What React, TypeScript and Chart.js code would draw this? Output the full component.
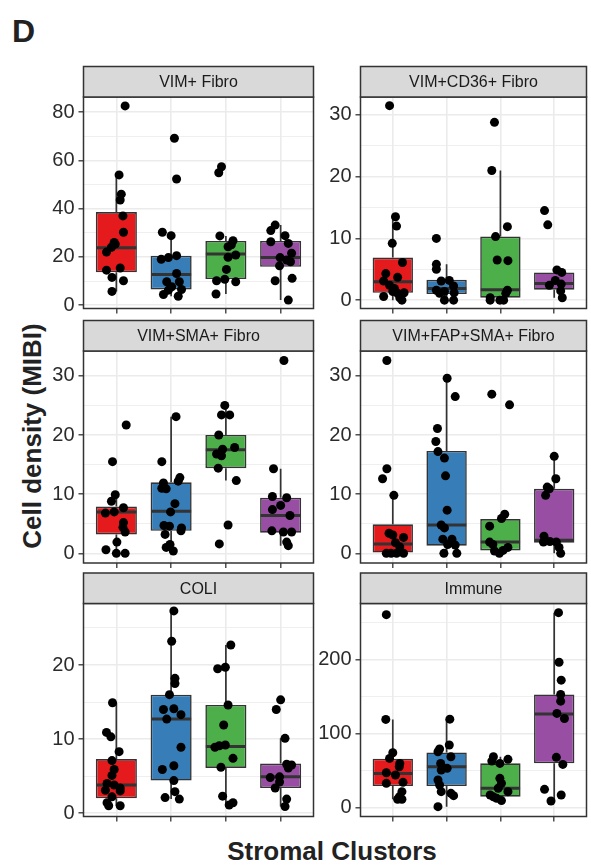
import React, { useEffect, useRef } from 'react';
import { Chart, registerables } from 'chart.js';

Chart.register(...registerables);

const FONT = "'Liberation Sans', Arial, Helvetica, sans-serif";
Chart.defaults.font.family = FONT;

// ---------- categories / colours ----------
const clusters = [1, 2, 3, 4];
const clusterColors = ['#E41A1C', '#377EB8', '#4DAF4A', '#984EA3'];

// ---------- Panel: VIM+ Fibro ----------
const vimFibroValues = [
  [82.6, 54.0, 46.0, 43.6, 37.0, 30.2, 26.0, 25.3, 24.0, 22.0, 15.4, 14.5, 11.5, 10.1, 5.7],
  [69.2, 52.3, 30.2, 28.8, 20.5, 19.7, 19.0, 13.1, 9.7, 9.7, 7.6, 6.5, 6.2, 4.4, 3.7],
  [57.4, 54.9, 28.7, 26.7, 25.0, 24.2, 20.8, 19.8, 14.8, 10.7, 10.1, 9.7, 4.6],
  [33.2, 30.9, 28.8, 26.3, 25.6, 21.5, 19.7, 18.7, 18.0, 16.3, 11.1, 10.1, 2.1],
];
const vimFibroJitter = [
  [0.16, 0.05, 0.09, 0.07, 0.12, 0.13, -0.04, -0.02, -0.09, -0.18, 0.07, -0.18, -0.08, 0.13, -0.08],
  [0.06, 0.10, -0.16, 0.0, 0.10, -0.05, -0.18, 0.10, -0.08, 0.15, 0.01, 0.19, -0.05, -0.14, 0.13],
  [-0.08, -0.13, -0.11, 0.13, 0.10, 0.04, 0.18, 0.04, 0.01, -0.02, -0.17, 0.18, -0.18],
  [-0.10, -0.18, 0.08, -0.18, 0.14, 0.20, -0.01, 0.11, 0.18, -0.02, 0.21, -0.10, 0.14],
];
// [lower whisker, q1, median, q3, upper whisker]
const vimFibroBox = [
  [5.7, 13.6, 23.8, 38.6, 54.0],
  [3.7, 6.5, 12.7, 20.5, 30.2],
  [4.6, 10.8, 21.2, 26.6, 28.7],
  [2.1, 15.9, 19.7, 26.6, 33.2],
];
const vimFibroRange = [-1.4, 86.3];
const vimFibroMajor = [0, 20, 40, 60, 80];
const vimFibroMinor = [10, 30, 50, 70];

// ---------- Panel: VIM+CD36+ Fibro ----------
const cd36Values = [
  [31.5, 13.5, 12.0, 9.2, 6.1, 4.3, 3.7, 3.1, 2.4, 1.9, 1.4, 1.2, 1.1, 0.6, 0.4, 0.0],
  [10.0, 5.8, 5.0, 3.2, 3.1, 2.3, 1.6, 1.4, 1.2, 1.1, 0.0, 0.0],
  [28.8, 21.0, 11.9, 10.3, 6.5, 6.4, 1.6, 1.1, 0.4, 0.0, 0.0, 0.0],
  [14.5, 12.2, 4.9, 4.5, 3.2, 2.6, 2.4, 1.5, 0.4],
];
const cd36Jitter = [
  [-0.06, 0.05, 0.07, -0.01, 0.18, -0.13, 0.09, -0.17, -0.06, 0.03, 0.0, 0.21, 0.09, -0.17, 0.13, 0.17],
  [-0.19, -0.19, -0.19, 0.05, -0.10, 0.13, -0.19, -0.04, 0.14, -0.13, -0.04, 0.13],
  [-0.11, -0.16, 0.13, -0.09, -0.06, 0.14, 0.13, 0.10, -0.19, -0.19, -0.01, 0.06],
  [-0.18, -0.12, 0.05, 0.14, 0.02, 0.13, -0.09, 0.12, 0.15],
];
const cd36Box = [
  [0, 1.2, 3.0, 6.9, 13.5],
  [0, 1.0, 1.9, 3.3, 5.8],
  [0, 0.4, 1.7, 10.3, 21.0],
  [0.4, 1.7, 2.7, 4.5, 4.9],
];
const cd36Range = [-1.35, 32.9];
const cd36Major = [0, 10, 20, 30];
const cd36Minor = [5, 15, 25];

// ---------- Panel: VIM+SMA+ Fibro ----------
const smaValues = [
  [21.7, 15.5, 9.9, 8.8, 7.7, 7.0, 6.8, 5.2, 4.4, 3.6, 1.9, 0.6, 0.0, 0.0],
  [23.1, 15.5, 12.8, 12.2, 11.9, 11.0, 10.9, 8.4, 7.0, 4.7, 4.6, 4.3, 3.8, 3.2, 1.5, 1.0, 0.4],
  [25.0, 23.4, 23.4, 20.0, 17.9, 17.6, 16.8, 16.5, 14.4, 12.3, 4.8, 1.6],
  [32.6, 14.3, 9.6, 9.4, 8.1, 7.4, 6.4, 3.8, 3.6, 3.6, 1.9, 1.3],
];
const smaJitter = [
  [0.18, -0.07, -0.02, -0.09, 0.13, -0.04, -0.20, 0.13, 0.12, 0.16, 0.01, -0.19, 0.0, 0.16],
  [0.09, -0.17, 0.16, 0.13, -0.14, -0.17, -0.09, 0.07, -0.01, -0.13, -0.03, 0.19, 0.18, -0.11, -0.02, -0.09, 0.04],
  [-0.02, -0.08, 0.07, -0.13, 0.16, -0.06, -0.17, -0.08, -0.14, 0.19, 0.04, -0.12],
  [0.06, -0.13, -0.15, 0.11, 0.0, -0.15, 0.17, -0.16, 0.05, 0.20, 0.11, 0.14],
];
const smaBox = [
  [0, 3.2, 7.0, 7.9, 9.9],
  [0.4, 3.8, 7.1, 12.0, 23.1],
  [12.3, 14.4, 17.5, 20.0, 25.0],
  [1.3, 3.5, 6.4, 9.4, 14.3],
];
const smaRange = [-1.63, 34.2];
const smaMajor = [0, 10, 20, 30];
const smaMinor = [5, 15, 25];

// ---------- Panel: VIM+FAP+SMA+ Fibro ----------
const fapValues = [
  [32.6, 14.3, 12.6, 9.8, 3.4, 3.1, 2.7, 1.8, 1.1, 0, 0, 0, 0],
  [29.6, 26.5, 21.1, 18.9, 17.2, 16.1, 13.1, 7.3, 4.8, 4.3, 2.4, 2.4, 1.5, 1.4, 0, 0],
  [26.9, 25.1, 6.6, 5.9, 4.6, 1.9, 1.5, 1.0, 0.5, 0.4, 0],
  [16.4, 12.6, 11.2, 10.9, 9.8, 2.9, 2.0, 1.9, 1.9, 1.0, 0],
];
const fapJitter = [
  [-0.11, -0.11, -0.19, 0.02, -0.07, 0.0, 0.20, 0.05, 0.13, -0.12, -0.03, 0.07, 0.20],
  [0.01, 0.16, -0.17, -0.20, -0.16, -0.04, -0.02, 0.01, -0.10, -0.04, -0.07, 0.10, 0.02, 0.16, -0.05, 0.19],
  [-0.16, 0.17, 0.08, 0.02, -0.20, -0.20, -0.14, 0.14, 0.05, -0.11, -0.02],
  [0.0, 0.03, -0.13, -0.09, -0.16, -0.19, -0.08, -0.20, 0.04, 0.09, 0.12],
];
const fapBox = [
  [0, 0, 1.6, 4.9, 9.8],
  [0, 1.3, 4.8, 17.3, 29.6],
  [0, 0.5, 1.9, 5.8, 6.6],
  [0, 1.8, 2.2, 10.9, 16.4],
];
const fapRange = [-1.63, 34.2];
const fapMajor = [0, 10, 20, 30];
const fapMinor = [5, 15, 25];

// ---------- Panel: COLI ----------
const coliValues = [
  [14.9, 10.9, 10.3, 8.3, 7.1, 5.9, 5.1, 4.0, 3.8, 3.4, 3.1, 3.0, 2.2, 1.4, 1.0, 1.0],
  [27.3, 23.2, 18.2, 17.5, 16.0, 14.1, 14.0, 13.3, 12.7, 8.9, 6.4, 5.9, 4.4, 2.9, 2.1, 1.9],
  [22.7, 19.7, 19.5, 14.6, 11.9, 9.2, 9.1, 8.9, 7.4, 6.2, 2.3, 1.4, 1.1],
  [15.3, 14.0, 10.1, 6.6, 6.5, 6.1, 4.9, 4.8, 4.2, 3.4, 1.9, 0.9],
];
const coliJitter = [
  [-0.07, -0.18, -0.10, 0.05, -0.08, -0.04, -0.08, -0.17, -0.04, 0.07, -0.20, 0.07, -0.08, -0.17, -0.14, 0.07],
  [0.05, 0.01, 0.07, 0.07, -0.03, 0.05, -0.14, 0.18, -0.08, 0.18, 0.05, -0.16, 0.05, 0.07, -0.11, 0.15],
  [0.09, -0.01, -0.15, 0.04, -0.04, -0.01, -0.12, -0.20, 0.13, -0.09, -0.06, 0.13, 0.06],
  [0.0, -0.08, 0.08, 0.11, 0.20, 0.14, -0.02, -0.19, -0.02, -0.10, 0.11, 0.08],
];
const coliBox = [
  [1.0, 2.0, 3.8, 7.3, 14.9],
  [1.9, 4.4, 12.7, 16.0, 27.3],
  [1.1, 6.1, 9.0, 14.6, 22.7],
  [0.9, 3.4, 4.9, 6.7, 10.1],
];
const coliRange = [-0.45, 28.3];
const coliMajor = [0, 10, 20];
const coliMinor = [5, 15, 25];

// ---------- Panel: Immune ----------
const immuneValues = [
  [260.5, 119.3, 74.4, 66.8, 60, 55.6, 47.5, 44.4, 34.5, 33.2, 22, 15, 11.7, 11.7],
  [119.7, 84.8, 79.4, 75.8, 69, 60, 53.4, 51, 37.7, 31, 22, 19.7, 16.6, 1.8],
  [69, 65.5, 63.2, 60, 39.9, 33.2, 26.5, 22, 17.5, 15, 13, 9.9],
  [263.2, 196.4, 172.2, 152.9, 143.9, 127.4, 120.6, 68.2, 58.7, 25.1, 17.5, 9.4],
];
const immuneJitter = [
  [-0.12, -0.13, 0.0, -0.06, 0.13, 0.12, -0.12, 0.05, 0.19, -0.12, 0.17, 0.12, 0.09, 0.17],
  [0.06, 0.05, -0.13, -0.16, 0.08, -0.11, 0.01, -0.10, -0.16, -0.13, -0.10, 0.08, 0.13, -0.16],
  [-0.13, 0.14, -0.16, -0.01, -0.01, 0.02, -0.04, 0.14, -0.19, -0.13, -0.07, 0.02],
  [0.08, 0.09, 0.13, 0.12, 0.12, 0.05, 0.19, 0.04, 0.16, -0.18, 0.13, -0.06],
];
const immuneBox = [
  [11.7, 29.6, 46.6, 66.4, 119.3],
  [1.8, 29.6, 55.6, 74.9, 119.7],
  [9.9, 15.2, 26.5, 60.1, 69],
  [9.4, 60.1, 126.5, 152.9, 263.2],
];
const immuneRange = [-11.5, 275.5];
const immuneMajor = [0, 100, 200];
const immuneMinor = [50, 150, 250];

// ---------- texts ----------
const panelLetter = 'D';
const yAxisTitle = 'Cell density (MIBI)';
const xAxisTitle = 'Stromal Clustors';

const panels = [
  { title: 'VIM+ Fibro', values: vimFibroValues, jitter: vimFibroJitter, box: vimFibroBox, range: vimFibroRange, major: vimFibroMajor, minor: vimFibroMinor, col: 0, row: 0 },
  { title: 'VIM+CD36+ Fibro', values: cd36Values, jitter: cd36Jitter, box: cd36Box, range: cd36Range, major: cd36Major, minor: cd36Minor, col: 1, row: 0 },
  { title: 'VIM+SMA+ Fibro', values: smaValues, jitter: smaJitter, box: smaBox, range: smaRange, major: smaMajor, minor: smaMinor, col: 0, row: 1 },
  { title: 'VIM+FAP+SMA+ Fibro', values: fapValues, jitter: fapJitter, box: fapBox, range: fapRange, major: fapMajor, minor: fapMinor, col: 1, row: 1 },
  { title: 'COLI', values: coliValues, jitter: coliJitter, box: coliBox, range: coliRange, major: coliMajor, minor: coliMinor, col: 0, row: 2 },
  { title: 'Immune', values: immuneValues, jitter: immuneJitter, box: immuneBox, range: immuneRange, major: immuneMajor, minor: immuneMinor, col: 1, row: 2 },
];

// ---------- layout ----------
const COLS = [
  { left: 83.5, right: 313.5, cLeft: 36, cRight: 320 },
  { left: 360.5, right: 589.5, cLeft: 314, cRight: 591 },
];
const ROWS = [
  { strip: 66.5, top: 97, bottom: 308.5 },
  { strip: 320.5, top: 351, bottom: 563 },
  { strip: 573, top: 603.5, bottom: 816.5 },
];

const DARK = '#333333';
const GRID = '#ebebeb';

const facetPlugin = {
  id: 'facet',
  beforeDatasetsDraw(chart: any, _args: any, opts: any) {
    const meta = chart.getDatasetMeta(0);
    const ys = chart.scales.y;
    const ctx = chart.ctx;
    ctx.save();
    ctx.strokeStyle = DARK;
    ctx.lineWidth = 1.7;
    opts.box.forEach((b: number[], i: number) => {
      const el = meta.data[i];
      if (!el) return;
      const x = el.x;
      ctx.beginPath();
      ctx.moveTo(x, ys.getPixelForValue(b[4]));
      ctx.lineTo(x, ys.getPixelForValue(b[3]));
      ctx.moveTo(x, ys.getPixelForValue(b[1]));
      ctx.lineTo(x, ys.getPixelForValue(b[0]));
      ctx.stroke();
    });
    ctx.restore();
  },
  afterDatasetDraw(chart: any, args: any, opts: any) {
    if (args.index !== 0) return;
    const meta = chart.getDatasetMeta(0);
    const ys = chart.scales.y;
    const ctx = chart.ctx;
    ctx.save();
    ctx.strokeStyle = DARK;
    ctx.lineWidth = 3;
    opts.box.forEach((b: number[], i: number) => {
      const el = meta.data[i];
      if (!el) return;
      const y = ys.getPixelForValue(b[2]);
      ctx.beginPath();
      ctx.moveTo(el.x - el.width / 2 + 0.5, y);
      ctx.lineTo(el.x + el.width / 2 - 0.5, y);
      ctx.stroke();
    });
    ctx.restore();
  },
  afterDraw(chart: any, _args: any, opts: any) {
    const { left, top, right, bottom } = chart.chartArea;
    const ctx = chart.ctx;
    const sh = opts.stripHeight;
    ctx.save();
    ctx.lineWidth = 1.5;
    ctx.strokeStyle = DARK;
    ctx.strokeRect(left, top, right - left, bottom - top);
    ctx.fillStyle = '#d9d9d9';
    ctx.fillRect(left, top - sh, right - left, sh);
    ctx.strokeRect(left, top - sh, right - left, sh);
    ctx.fillStyle = '#1a1a1a';
    ctx.font = `16px ${FONT}`;
    ctx.textAlign = 'center';
    ctx.textBaseline = 'alphabetic';
    ctx.fillText(opts.title, (left + right) / 2, top - sh / 2 + 0.358 * 16);
    ctx.restore();
  },
};

function Panel({ p }: { p: any }) {
  const ref = useRef<HTMLCanvasElement | null>(null);
  const col = COLS[p.col];
  const row = ROWS[p.row];
  const cTop = Math.floor(row.strip - 3);
  const cBottom = Math.ceil(row.bottom + 16);
  const cw = col.cRight - col.cLeft;
  const ch = cBottom - cTop;

  useEffect(() => {
    const allTicks = [...p.major, ...p.minor].sort((a: number, b: number) => a - b);
    const isMajor = (v: number) => p.major.includes(v);
    const points: { x: number; y: number }[] = [];
    p.values.forEach((vals: number[], g: number) => {
      vals.forEach((v, k) => points.push({ x: clusters[g] + p.jitter[g][k], y: v }));
    });
    const chart = new Chart(ref.current as HTMLCanvasElement, {
      type: 'bar',
      data: {
        datasets: [
          {
            type: 'bar',
            data: p.box.map((b: number[], i: number) => ({ x: clusters[i], y: [b[1], b[3]] })) as any,
            backgroundColor: clusterColors,
            borderColor: DARK,
            borderWidth: 1.6,
            borderSkipped: false,
            barPercentage: 0.75,
            categoryPercentage: 1,
            order: 2,
          } as any,
          {
            type: 'scatter',
            data: points,
            backgroundColor: '#000000',
            borderWidth: 0,
            pointRadius: 4.5,
            pointHoverRadius: 4.5,
            clip: false,
            order: 1,
          } as any,
        ],
      },
      options: {
        animation: false,
        responsive: false,
        devicePixelRatio: 1,
        events: [],
        layout: {
          padding: { top: row.top - cTop, left: 0, right: col.cRight - col.right, bottom: 0 },
        },
        plugins: {
          legend: { display: false },
          tooltip: { enabled: false },
          facet: { title: p.title, box: p.box, stripHeight: row.top - row.strip },
        } as any,
        scales: {
          x: {
            type: 'linear',
            min: 0.4,
            max: 4.6,
            bounds: 'data',
            offset: false,
            afterBuildTicks: (s: any) => {
              s.ticks = clusters.map((v) => ({ value: v }));
            },
            afterFit: (s: any) => {
              s.height = cBottom - row.bottom;
            },
            ticks: { display: false, autoSkip: false },
            grid: {
              offset: false,
              color: GRID,
              lineWidth: 1.6,
              tickLength: 5,
              tickColor: DARK,
              tickWidth: 1.3,
            },
            border: { display: false },
          },
          y: {
            type: 'linear',
            min: p.range[0],
            max: p.range[1],
            bounds: 'data',
            beginAtZero: false,
            afterBuildTicks: (s: any) => {
              s.ticks = allTicks.map((v: number) => ({ value: v }));
            },
            afterFit: (s: any) => {
              s.width = col.left - col.cLeft;
            },
            ticks: {
              autoSkip: false,
              padding: 4,
              color: '#2b2b2b',
              font: { size: 20, family: FONT },
              callback: (v: any) => (isMajor(Number(v)) ? String(v) : ''),
            },
            grid: {
              color: GRID,
              lineWidth: (c: any) => (isMajor(c.tick?.value) ? 1.6 : 0.8),
              tickLength: 5,
              tickColor: (c: any) => (isMajor(c.tick?.value) ? DARK : 'rgba(0,0,0,0)'),
              tickWidth: 1.3,
            },
            border: { display: false },
          },
        },
      } as any,
      plugins: [facetPlugin as any],
    });
    return () => chart.destroy();
  }, []);

  return (
    <canvas
      ref={ref}
      width={cw}
      height={ch}
      style={{ position: 'absolute', left: col.cLeft, top: cTop, width: cw, height: ch }}
    />
  );
}

export default function App() {
  return (
    <div
      style={{
        position: 'absolute',
        left: 0,
        top: 0,
        width: 591,
        height: 866,
        background: '#ffffff',
        overflow: 'hidden',
        fontFamily: FONT,
      }}
    >
      <div
        style={{
          position: 'absolute',
          left: 12,
          top: 15,
          fontSize: 32,
          lineHeight: '32px',
          fontWeight: 'bold',
          color: '#222',
        }}
      >
        {panelLetter}
      </div>
      <div
        style={{
          position: 'absolute',
          left: 32.3 - 150,
          top: 436 - 13,
          width: 300,
          height: 26,
          lineHeight: '26px',
          fontSize: 26,
          fontWeight: 'bold',
          textAlign: 'center',
          color: '#222',
          transform: 'rotate(-90deg)',
          whiteSpace: 'nowrap',
        }}
      >
        {yAxisTitle}
      </div>
      <div
        style={{
          position: 'absolute',
          left: 332 - 150,
          top: 838,
          width: 300,
          lineHeight: '26px',
          fontSize: 26,
          fontWeight: 'bold',
          textAlign: 'center',
          color: '#222',
          whiteSpace: 'nowrap',
        }}
      >
        {xAxisTitle}
      </div>
      {panels.map((p) => (
        <Panel key={p.title} p={p} />
      ))}
    </div>
  );
}
